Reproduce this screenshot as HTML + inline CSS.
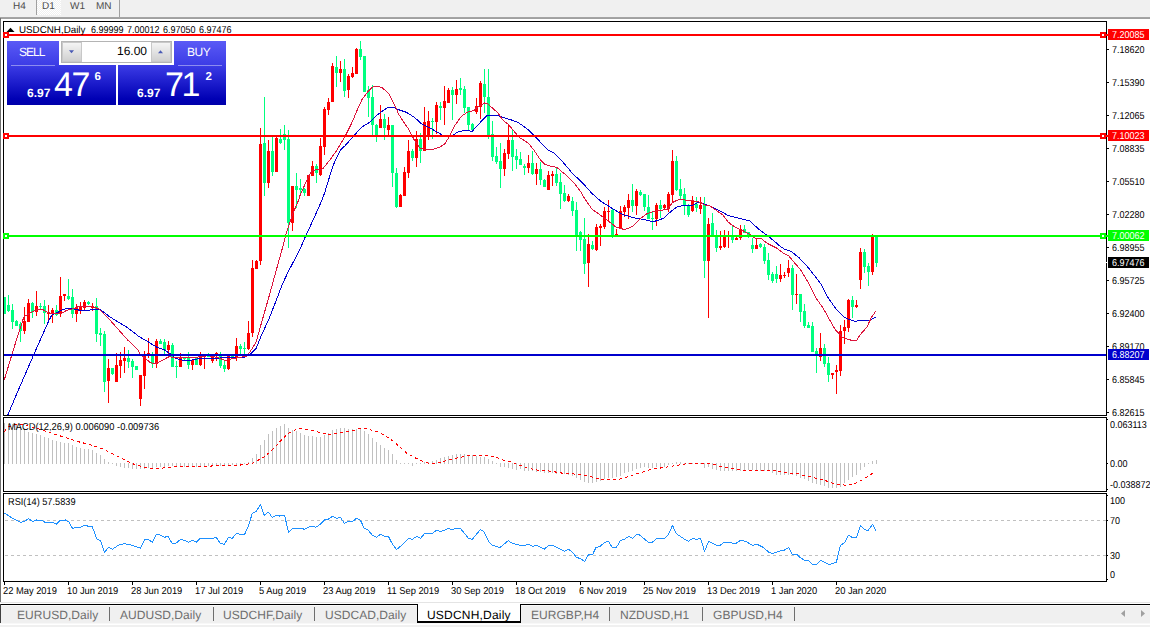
<!DOCTYPE html>
<html><head><meta charset="utf-8"><title>USDCNH,Daily</title>
<style>
html,body{margin:0;padding:0;}
body{width:1150px;height:627px;overflow:hidden;background:#fff;position:relative;font-family:"Liberation Sans",sans-serif;text-rendering:geometricPrecision;}
.abs{position:absolute;}
#top{left:0;top:0;width:1150px;height:17px;background:#f0f0f0;}
#top .tf{position:absolute;top:1px;font-size:10px;line-height:12px;color:#4c4c4c;}
.pl{position:absolute;left:1112px;font-size:10px;line-height:12px;color:#000;white-space:nowrap;transform:scaleX(0.9);transform-origin:0 0;}
.pb{position:absolute;left:1108px;width:41px;height:11px;font-size:10px;line-height:14px;color:#fff;white-space:nowrap;overflow:hidden;}
.pb span{display:inline-block;transform:scaleX(0.9);transform-origin:0 0;margin-left:4px;}
.dl{position:absolute;top:586px;font-size:10px;line-height:12px;color:#000;white-space:nowrap;transform:scaleX(0.932);transform-origin:0 0;}
.t{position:absolute;font-size:10px;line-height:12px;color:#000;white-space:nowrap;transform:scaleX(0.9);transform-origin:0 0;}
#tabbar{left:0;top:602px;width:1150px;height:25px;background:#f0f0f0;}
.tab{position:absolute;top:607.5px;font-size:12px;line-height:15px;color:#6e6e6e;white-space:nowrap;letter-spacing:0.05px;}
.tab.act{color:#000;letter-spacing:0.2px;}
.tsep{position:absolute;top:607px;width:1px;height:14px;background:#6e6e6e;}
.w{color:#fff;position:absolute;white-space:nowrap;}
</style></head><body>
<div id="top" class="abs">
 <div class="abs" style="left:37px;top:0;width:24px;height:15px;background:repeating-conic-gradient(#ffffff 0% 25%,#f0f0f0 0% 50%) 0 0/2px 2px;"></div>
 <div class="abs" style="left:36px;top:0;width:1px;height:15px;background:#a0a0a0;"></div>
 <div class="abs" style="left:119px;top:0;width:1px;height:17px;background:#a0a0a0;"></div>
 <div class="tf" style="left:13px">H4</div><div class="tf" style="left:42px">D1</div><div class="tf" style="left:70px">W1</div><div class="tf" style="left:96px">MN</div>
</div>
<div class="abs" style="left:0;top:17px;width:1150px;height:1px;background:#a4a4a4;"></div>
<div class="abs" style="left:0;top:18px;width:1150px;height:1px;background:#a0a0a0;"></div>
<div class="abs" style="left:0;top:18px;width:1px;height:584px;background:#707070;"></div>
<div id="tabbar" class="abs"></div>
<div class="abs" style="left:0;top:602px;width:1150px;height:1px;background:#e4e4e4;"></div>
<div class="abs" style="left:0;top:603px;width:1150px;height:1px;background:#fff;"></div>
<div class="abs" style="left:0;top:604px;width:1150px;height:1px;background:#000;"></div>
<div class="abs" style="left:0;top:605px;width:1150px;height:1px;background:#fafafa;"></div>
<div class="abs" style="left:0;top:604px;width:1px;height:19px;background:#404040;"></div>
<div class="abs" style="left:0;top:623px;width:1150px;height:1px;background:#f8f8f8;"></div>
<div class="abs" style="left:0;top:624px;width:1150px;height:1px;background:#fff;"></div>
<div class="abs" style="left:417px;top:604px;width:104px;height:19px;background:#fff;border:1px solid #000;border-top:none;border-bottom-width:2px;box-sizing:border-box;"></div>
<div class="tab" style="left:17px">EURUSD,Daily</div><div class="tab" style="left:120px">AUDUSD,Daily</div><div class="tab" style="left:223px">USDCHF,Daily</div><div class="tab" style="left:325px">USDCAD,Daily</div><div class="tab act" style="left:427px">USDCNH,Daily</div><div class="tab" style="left:531px">EURGBP,H4</div><div class="tab" style="left:620px">NZDUSD,H1</div><div class="tab" style="left:713px">GBPUSD,H4</div><div class="tsep" style="left:109px"></div><div class="tsep" style="left:213px"></div><div class="tsep" style="left:314px"></div><div class="tsep" style="left:609px"></div><div class="tsep" style="left:702px"></div><div class="tsep" style="left:794px"></div>
<svg class="abs" style="left:0;top:0" width="1150" height="627" viewBox="0 0 1150 627">
<g shape-rendering="crispEdges">
<!-- frames -->
<path fill="#000" d="M3 21h1104v1h-1104zM3 415h1104v1h-1104zM3 417h1104v1h-1104zM3 491h1104v1h-1104zM3 493h1104v1h-1104zM3 581h1104v1h-1104zM3 21h1v395h-1zM3 417h1v75h-1zM3 493h1v89h-1zM1106 21h1v395h-1zM1106 417h1v75h-1zM1106 493h1v89h-1zM1107 419h1v1h-1zM1107 463h1v1h-1zM1107 489h1v1h-1zM1107 495h1v1h-1zM1107 520h1v1h-1zM1107 555h1v1h-1zM1107 579h1v1h-1z"/>
<rect x="1107" y="49" width="2" height="1" fill="#000"/><rect x="1107" y="82" width="2" height="1" fill="#000"/><rect x="1107" y="115" width="2" height="1" fill="#000"/><rect x="1107" y="148" width="2" height="1" fill="#000"/><rect x="1107" y="181" width="2" height="1" fill="#000"/><rect x="1107" y="214" width="2" height="1" fill="#000"/><rect x="1107" y="247" width="2" height="1" fill="#000"/><rect x="1107" y="280" width="2" height="1" fill="#000"/><rect x="1107" y="313" width="2" height="1" fill="#000"/><rect x="1107" y="346" width="2" height="1" fill="#000"/><rect x="1107" y="379" width="2" height="1" fill="#000"/><rect x="1107" y="412" width="2" height="1" fill="#000"/>
<rect x="4" y="582" width="1" height="3" fill="#000"/><rect x="68" y="582" width="1" height="3" fill="#000"/><rect x="132" y="582" width="1" height="3" fill="#000"/><rect x="196" y="582" width="1" height="3" fill="#000"/><rect x="260" y="582" width="1" height="3" fill="#000"/><rect x="324" y="582" width="1" height="3" fill="#000"/><rect x="388" y="582" width="1" height="3" fill="#000"/><rect x="452" y="582" width="1" height="3" fill="#000"/><rect x="516" y="582" width="1" height="3" fill="#000"/><rect x="580" y="582" width="1" height="3" fill="#000"/><rect x="644" y="582" width="1" height="3" fill="#000"/><rect x="708" y="582" width="1" height="3" fill="#000"/><rect x="772" y="582" width="1" height="3" fill="#000"/><rect x="836" y="582" width="1" height="3" fill="#000"/>
<!-- rsi levels -->
<path stroke="#c0c0c0" stroke-width="1" stroke-dasharray="3 3" d="M5 520.5H1106M5 555.5H1106" fill="none"/>
<path fill="#c0c0c0" d="M4 423h1v41h-1zM8 424h1v40h-1zM12 424h1v40h-1zM16 425h1v39h-1zM20 427h1v37h-1zM24 430h1v34h-1zM28 432h1v32h-1zM32 433h1v31h-1zM36 434h1v30h-1zM40 435h1v29h-1zM44 437h1v27h-1zM48 438h1v26h-1zM52 440h1v24h-1zM56 441h1v23h-1zM60 442h1v22h-1zM64 443h1v21h-1zM68 443h1v21h-1zM72 445h1v19h-1zM76 447h1v17h-1zM80 448h1v16h-1zM84 449h1v15h-1zM88 449h1v15h-1zM92 450h1v14h-1zM96 453h1v11h-1zM100 455h1v9h-1zM104 459h1v5h-1zM108 462h1v2h-1zM112 463h1v1h-1zM116 463h1v3h-1zM120 463h1v4h-1zM124 463h1v5h-1zM128 463h1v5h-1zM132 463h1v6h-1zM136 463h1v6h-1zM140 463h1v6h-1zM144 463h1v6h-1zM148 463h1v5h-1zM152 463h1v5h-1zM156 463h1v4h-1zM160 463h1v4h-1zM164 463h1v4h-1zM168 463h1v3h-1zM172 463h1v3h-1zM176 463h1v4h-1zM180 463h1v4h-1zM184 463h1v4h-1zM188 463h1v4h-1zM192 463h1v4h-1zM196 463h1v4h-1zM200 463h1v4h-1zM204 463h1v3h-1zM208 463h1v3h-1zM212 463h1v3h-1zM216 463h1v3h-1zM220 463h1v3h-1zM224 463h1v3h-1zM228 463h1v2h-1zM232 463h1v2h-1zM236 463h1v2h-1zM240 463h1v1h-1zM244 463h1v1h-1zM248 462h1v2h-1zM252 458h1v6h-1zM256 454h1v10h-1zM260 445h1v19h-1zM264 440h1v24h-1zM268 434h1v30h-1zM272 431h1v33h-1zM276 428h1v36h-1zM280 426h1v38h-1zM284 424h1v40h-1zM288 428h1v36h-1zM292 430h1v34h-1zM296 431h1v33h-1zM300 433h1v31h-1zM304 435h1v29h-1zM308 436h1v28h-1zM312 436h1v28h-1zM316 437h1v27h-1zM320 437h1v27h-1zM324 435h1v29h-1zM328 433h1v31h-1zM332 430h1v34h-1zM336 429h1v35h-1zM340 428h1v36h-1zM344 428h1v36h-1zM348 429h1v35h-1zM352 429h1v35h-1zM356 429h1v35h-1zM360 428h1v36h-1zM364 431h1v33h-1zM368 434h1v30h-1zM372 438h1v26h-1zM376 442h1v22h-1zM380 445h1v19h-1zM384 448h1v16h-1zM388 450h1v14h-1zM392 454h1v10h-1zM396 460h1v4h-1zM400 463h1v1h-1zM404 463h1v1h-1zM408 463h1v1h-1zM412 463h1v3h-1zM416 463h1v1h-1zM420 463h1v1h-1zM424 462h1v2h-1zM428 462h1v2h-1zM432 461h1v3h-1zM436 460h1v4h-1zM440 458h1v6h-1zM444 457h1v7h-1zM448 456h1v8h-1zM452 455h1v9h-1zM456 454h1v10h-1zM460 454h1v10h-1zM464 454h1v10h-1zM468 455h1v9h-1zM472 455h1v9h-1zM476 456h1v8h-1zM480 457h1v7h-1zM484 457h1v7h-1zM488 459h1v5h-1zM492 461h1v3h-1zM496 463h1v1h-1zM500 463h1v4h-1zM504 463h1v4h-1zM508 463h1v5h-1zM512 463h1v6h-1zM516 463h1v7h-1zM520 463h1v6h-1zM524 463h1v8h-1zM528 463h1v8h-1zM532 463h1v8h-1zM536 463h1v9h-1zM540 463h1v9h-1zM544 463h1v10h-1zM548 463h1v10h-1zM552 463h1v10h-1zM556 463h1v11h-1zM560 463h1v10h-1zM564 463h1v11h-1zM568 463h1v12h-1zM572 463h1v13h-1zM576 463h1v15h-1zM580 463h1v17h-1zM584 463h1v19h-1zM588 463h1v20h-1zM592 463h1v20h-1zM596 463h1v19h-1zM600 463h1v18h-1zM604 463h1v16h-1zM608 463h1v15h-1zM612 463h1v15h-1zM616 463h1v14h-1zM620 463h1v13h-1zM624 463h1v10h-1zM628 463h1v9h-1zM632 463h1v8h-1zM636 463h1v6h-1zM640 463h1v5h-1zM644 463h1v4h-1zM648 463h1v5h-1zM652 463h1v5h-1zM656 463h1v4h-1zM660 463h1v4h-1zM664 463h1v4h-1zM668 463h1v2h-1zM672 463h1v1h-1zM676 462h1v2h-1zM680 462h1v2h-1zM684 463h1v1h-1zM688 463h1v1h-1zM692 463h1v1h-1zM696 463h1v1h-1zM700 463h1v1h-1zM704 463h1v5h-1zM708 463h1v4h-1zM712 463h1v6h-1zM716 463h1v7h-1zM720 463h1v8h-1zM724 463h1v8h-1zM728 463h1v8h-1zM732 463h1v8h-1zM736 463h1v8h-1zM740 463h1v8h-1zM744 463h1v7h-1zM748 463h1v7h-1zM752 463h1v7h-1zM756 463h1v7h-1zM760 463h1v8h-1zM764 463h1v8h-1zM768 463h1v8h-1zM772 463h1v10h-1zM776 463h1v12h-1zM780 463h1v12h-1zM784 463h1v12h-1zM788 463h1v12h-1zM792 463h1v12h-1zM796 463h1v13h-1zM800 463h1v15h-1zM804 463h1v16h-1zM808 463h1v18h-1zM812 463h1v20h-1zM816 463h1v21h-1zM820 463h1v22h-1zM824 463h1v23h-1zM828 463h1v25h-1zM832 463h1v25h-1zM836 463h1v25h-1zM840 463h1v24h-1zM844 463h1v20h-1zM848 463h1v17h-1zM852 463h1v14h-1zM856 463h1v12h-1zM860 463h1v7h-1zM864 463h1v4h-1zM868 463h1v1h-1zM872 461h1v3h-1zM876 460h1v4h-1z"/>
<path fill="#00ff7f" d="M4 297h1v17h-1zM4 297h2v17h-2zM8 295h1v17h-1zM7 305h3v6h-3zM12 304h1v25h-1zM11 310h3v12h-3zM16 320h1v6h-1zM15 321h3v5h-3zM20 322h1v20h-1zM19 324h3v7h-3zM32 302h1v16h-1zM31 303h3v9h-3zM40 303h1v6h-1zM39 306h3v1h-3zM44 300h1v24h-1zM43 306h3v7h-3zM56 305h1v11h-1zM55 310h3v5h-3zM68 279h1v21h-1zM67 296h3v3h-3zM72 289h1v29h-1zM71 297h3v17h-3zM88 301h1v4h-1zM87 302h3v2h-3zM96 298h1v44h-1zM95 306h3v28h-3zM100 328h1v18h-1zM99 333h3v2h-3zM104 331h1v61h-1zM103 334h3v48h-3zM112 368h1v7h-1zM111 368h3v6h-3zM128 350h1v18h-1zM127 358h3v4h-3zM132 359h1v19h-1zM131 361h3v6h-3zM136 366h1v4h-1zM135 366h3v4h-3zM152 352h1v16h-1zM151 354h3v10h-3zM160 339h1v5h-1zM159 341h3v3h-3zM164 339h1v15h-1zM163 342h3v8h-3zM172 343h1v24h-1zM171 345h3v22h-3zM176 361h1v17h-1zM175 366h3v1h-3zM184 357h1v3h-1zM183 357h3v2h-3zM188 352h1v17h-1zM187 358h3v7h-3zM196 358h1v7h-1zM195 358h3v7h-3zM208 353h1v4h-1zM207 354h3v3h-3zM220 352h1v16h-1zM219 356h3v10h-3zM224 361h1v11h-1zM223 365h3v4h-3zM232 356h1v1h-1zM231 356h3v1h-3zM240 344h1v10h-1zM239 346h3v3h-3zM244 342h1v12h-1zM243 348h3v1h-3zM264 97h1v99h-1zM263 143h3v40h-3zM272 137h1v39h-1zM271 151h3v21h-3zM280 129h1v15h-1zM279 139h3v4h-3zM284 125h1v25h-1zM283 134h3v6h-3zM288 130h1v118h-1zM287 139h3v84h-3zM296 173h1v35h-1zM295 186h3v4h-3zM300 179h1v14h-1zM299 188h3v2h-3zM304 188h1v8h-1zM303 189h3v4h-3zM316 164h1v19h-1zM315 166h3v7h-3zM336 56h1v31h-1zM335 67h3v6h-3zM344 59h1v38h-1zM343 69h3v22h-3zM360 41h1v19h-1zM359 49h3v8h-3zM364 56h1v36h-1zM363 56h3v36h-3zM368 86h1v31h-1zM367 90h3v8h-3zM372 85h1v50h-1zM371 97h3v28h-3zM376 124h1v18h-1zM375 125h3v10h-3zM384 114h1v26h-1zM383 119h3v9h-3zM392 125h1v62h-1zM391 125h3v48h-3zM396 168h1v40h-1zM395 173h3v34h-3zM412 149h1v12h-1zM411 151h3v7h-3zM420 133h1v30h-1zM419 139h3v12h-3zM432 118h1v21h-1zM431 121h3v1h-3zM440 102h1v18h-1zM439 106h3v2h-3zM452 87h1v33h-1zM451 90h3v5h-3zM460 78h1v17h-1zM459 88h3v2h-3zM464 86h1v27h-1zM463 89h3v19h-3zM468 107h1v23h-1zM467 107h3v18h-3zM472 123h1v8h-1zM471 124h3v6h-3zM484 69h1v44h-1zM483 84h3v13h-3zM488 69h1v70h-1zM487 97h3v38h-3zM492 121h1v40h-1zM491 134h3v23h-3zM496 147h1v17h-1zM495 156h3v6h-3zM500 143h1v45h-1zM499 161h3v8h-3zM512 130h1v41h-1zM511 140h3v17h-3zM516 149h1v20h-1zM515 156h3v4h-3zM520 152h1v13h-1zM519 159h3v6h-3zM524 164h1v11h-1zM523 166h3v2h-3zM532 151h1v24h-1zM531 163h3v11h-3zM540 162h1v23h-1zM539 169h3v11h-3zM544 179h1v8h-1zM543 180h3v7h-3zM556 168h1v18h-1zM555 174h3v9h-3zM560 173h1v36h-1zM559 182h3v12h-3zM564 185h1v17h-1zM563 193h3v8h-3zM572 197h1v19h-1zM571 201h3v10h-3zM576 202h1v49h-1zM575 210h3v27h-3zM580 231h1v20h-1zM579 232h3v8h-3zM584 218h1v56h-1zM583 239h3v25h-3zM592 241h1v9h-1zM591 245h3v4h-3zM612 209h1v29h-1zM611 210h3v26h-3zM632 184h1v28h-1zM631 200h3v6h-3zM640 190h1v6h-1zM639 192h3v3h-3zM644 194h1v17h-1zM643 194h3v13h-3zM648 195h1v24h-1zM647 207h3v12h-3zM652 211h1v19h-1zM651 218h3v1h-3zM660 200h1v18h-1zM659 205h3v4h-3zM676 156h1v35h-1zM675 161h3v29h-3zM680 179h1v20h-1zM679 189h3v7h-3zM684 188h1v27h-1zM683 194h3v12h-3zM688 204h1v13h-1zM687 206h3v9h-3zM696 197h1v15h-1zM695 204h3v4h-3zM704 197h1v81h-1zM703 204h3v57h-3zM712 213h1v23h-1zM711 223h3v13h-3zM716 230h1v22h-1zM715 237h3v11h-3zM732 226h1v17h-1zM731 237h3v3h-3zM744 225h1v8h-1zM743 229h3v4h-3zM748 232h1v6h-1zM747 232h3v3h-3zM752 238h1v15h-1zM751 245h3v4h-3zM760 243h1v5h-1zM759 244h3v3h-3zM764 244h1v20h-1zM763 247h3v14h-3zM768 253h1v27h-1zM767 260h3v15h-3zM772 272h1v11h-1zM771 274h3v7h-3zM776 266h1v17h-1zM775 274h3v5h-3zM792 265h1v45h-1zM791 268h3v27h-3zM800 294h1v28h-1zM799 294h3v18h-3zM804 304h1v24h-1zM803 311h3v15h-3zM808 322h1v6h-1zM807 325h3v3h-3zM812 322h1v30h-1zM811 326h3v26h-3zM816 348h1v25h-1zM815 351h3v3h-3zM824 344h1v23h-1zM823 348h3v16h-3zM828 357h1v25h-1zM827 363h3v12h-3zM852 296h1v22h-1zM851 300h3v7h-3zM864 249h1v24h-1zM863 252h3v15h-3zM868 263h1v23h-1zM867 266h3v6h-3zM876 236h1v31h-1zM875 237h3v26h-3z"/>
<path fill="#ff0000" d="M24 307h1v27h-1zM23 321h3v10h-3zM28 299h1v23h-1zM27 303h3v19h-3zM36 291h1v25h-1zM35 306h3v6h-3zM48 305h1v16h-1zM47 312h3v2h-3zM52 308h1v15h-1zM51 310h3v3h-3zM60 277h1v40h-1zM59 296h3v18h-3zM64 294h1v7h-1zM63 294h3v2h-3zM76 304h1v18h-1zM75 307h3v7h-3zM80 302h1v12h-1zM79 306h3v4h-3zM84 300h1v10h-1zM83 302h3v6h-3zM92 303h1v8h-1zM91 306h3v2h-3zM108 359h1v44h-1zM107 368h3v13h-3zM116 353h1v29h-1zM115 365h3v17h-3zM120 352h1v26h-1zM119 360h3v6h-3zM124 347h1v26h-1zM123 358h3v3h-3zM140 375h1v31h-1zM139 375h3v24h-3zM144 351h1v38h-1zM143 356h3v20h-3zM148 338h1v20h-1zM147 353h3v3h-3zM156 339h1v29h-1zM155 341h3v23h-3zM168 341h1v13h-1zM167 345h3v5h-3zM180 353h1v14h-1zM179 357h3v10h-3zM192 359h1v11h-1zM191 360h3v5h-3zM200 352h1v14h-1zM199 357h3v8h-3zM204 356h1v13h-1zM203 356h3v1h-3zM212 356h1v7h-1zM211 356h3v5h-3zM216 352h1v9h-1zM215 353h3v3h-3zM228 356h1v14h-1zM227 356h3v13h-3zM236 338h1v23h-1zM235 346h3v11h-3zM248 321h1v29h-1zM247 333h3v16h-3zM252 260h1v77h-1zM251 268h3v65h-3zM256 260h1v9h-1zM255 261h3v8h-3zM260 128h1v137h-1zM259 144h3v117h-3zM268 140h1v48h-1zM267 151h3v32h-3zM276 137h1v35h-1zM275 138h3v34h-3zM292 186h1v45h-1zM291 186h3v37h-3zM308 175h1v21h-1zM307 175h3v21h-3zM312 161h1v15h-1zM311 166h3v10h-3zM320 138h1v38h-1zM319 146h3v29h-3zM324 107h1v48h-1zM323 109h3v38h-3zM328 98h1v17h-1zM327 102h3v8h-3zM332 63h1v39h-1zM331 66h3v36h-3zM340 61h1v21h-1zM339 69h3v4h-3zM348 74h1v24h-1zM347 76h3v14h-3zM352 67h1v11h-1zM351 73h3v4h-3zM356 48h1v26h-1zM355 49h3v25h-3zM380 105h1v23h-1zM379 119h3v9h-3zM388 117h1v18h-1zM387 125h3v5h-3zM400 194h1v13h-1zM399 195h3v12h-3zM404 167h1v29h-1zM403 172h3v24h-3zM408 140h1v38h-1zM407 151h3v22h-3zM416 131h1v36h-1zM415 139h3v19h-3zM424 107h1v44h-1zM423 122h3v29h-3zM428 111h1v29h-1zM427 121h3v14h-3zM436 102h1v32h-1zM435 105h3v17h-3zM444 86h1v39h-1zM443 101h3v7h-3zM448 88h1v15h-1zM447 90h3v13h-3zM456 80h1v24h-1zM455 89h3v6h-3zM476 98h1v16h-1zM475 106h3v6h-3zM480 81h1v38h-1zM479 83h3v24h-3zM504 149h1v27h-1zM503 153h3v16h-3zM508 124h1v35h-1zM507 140h3v14h-3zM528 155h1v18h-1zM527 163h3v5h-3zM536 163h1v22h-1zM535 169h3v5h-3zM548 171h1v19h-1zM547 175h3v15h-3zM552 171h1v15h-1zM551 174h3v2h-3zM568 194h1v8h-1zM567 196h3v5h-3zM588 234h1v53h-1zM587 244h3v19h-3zM596 224h1v27h-1zM595 227h3v23h-3zM600 224h1v22h-1zM599 226h3v2h-3zM604 207h1v22h-1zM603 211h3v16h-3zM608 200h1v21h-1zM607 211h3v1h-3zM616 229h1v6h-1zM615 234h3v1h-3zM620 206h1v22h-1zM619 211h3v17h-3zM624 205h1v12h-1zM623 207h3v5h-3zM628 194h1v25h-1zM627 200h3v8h-3zM636 189h1v26h-1zM635 191h3v15h-3zM656 203h1v23h-1zM655 205h3v14h-3zM664 204h1v5h-1zM663 205h3v3h-3zM668 192h1v20h-1zM667 194h3v15h-3zM672 150h1v52h-1zM671 161h3v34h-3zM692 196h1v16h-1zM691 201h3v10h-3zM700 197h1v17h-1zM699 205h3v4h-3zM708 218h1v100h-1zM707 224h3v37h-3zM720 231h1v19h-1zM719 246h3v2h-3zM724 230h1v18h-1zM723 237h3v10h-3zM728 231h1v17h-1zM727 236h3v1h-3zM736 237h1v3h-1zM735 238h3v2h-3zM740 225h1v15h-1zM739 229h3v9h-3zM756 239h1v10h-1zM755 245h3v4h-3zM780 264h1v18h-1zM779 275h3v4h-3zM784 272h1v6h-1zM783 275h3v1h-3zM788 260h1v17h-1zM787 268h3v5h-3zM796 274h1v30h-1zM795 294h3v1h-3zM820 333h1v28h-1zM819 348h3v9h-3zM832 373h1v6h-1zM831 373h3v2h-3zM836 365h1v29h-1zM835 370h3v2h-3zM840 325h1v51h-1zM839 331h3v40h-3zM844 320h1v24h-1zM843 327h3v4h-3zM848 299h1v33h-1zM847 300h3v28h-3zM856 300h1v8h-1zM855 305h3v2h-3zM860 248h1v41h-1zM859 252h3v28h-3zM872 234h1v41h-1zM871 237h3v35h-3z"/>
</g>
<clipPath id="cp"><rect x="4" y="22" width="1102" height="393"/></clipPath>
<g clip-path="url(#cp)">
<polyline fill="none" stroke="#0000d0" stroke-width="1" shape-rendering="crispEdges" points="4,424 8.4,413.5 18.4,390 33.5,355.2 49.1,320 52.2,314.5 57.4,312.6 62.2,309.7 67,308.3 71.8,308.5 79.4,310.2 90,310.2 91.9,309.2 100.5,309.7 109.8,316.9 115,320 128,328 139.2,336.7 148.1,341.8 155.9,346.8 164.8,350.1 171.5,354.6 176,358.5 183.8,360.4 189.4,360.4 197.2,359 206.1,358.5 222.9,357.9 235.1,357.4 245.2,357 249.7,354.8 256,348.5 262,334 268.5,320 276,301 282,285 289.1,270 299.7,250 305.8,235.7 313.1,220 322,200 324.8,192.4 332.6,166.7 337,157 341,149.5 345,145.8 353.8,135.8 362,126.9 368.7,123 377.7,114.6 387.7,107.3 393.9,107.3 396.6,109 406.7,112.4 414.5,117.4 421.2,123.5 430.1,128 437.9,132.5 443,135.4 452.4,135.4 459.1,131.3 468.1,130.4 472,131.6 476,127 480,122.8 486.7,115.6 497.9,115.6 502.3,117.2 510,119.5 517.9,122.3 528,129.5 538,139.6 548.1,150.2 554.8,153.5 563.7,163 572.6,173.6 583.1,183.4 592,193.5 600.9,201.3 608,205.7 615.8,210.7 624.7,215.2 634.8,218 644.8,219.7 652.6,221.6 658,220.5 663.8,218 670.5,211.9 677.2,206.8 683.9,205.5 691.7,205.5 697.3,202.9 700.6,202.9 705.1,204.6 710.7,206.3 719.6,210.7 728.4,215.6 740.6,218.6 749.6,220.8 758.5,229 769.7,237.3 780.8,246.8 785.3,249.6 790.9,251.3 798.7,257.4 806.1,265 814.5,275.6 821.2,284.5 827.9,297.4 835.7,308.5 844.6,317.5 849.1,319.5 855.8,321.4 860.3,320.25 869.2,320.25 875.9,317.2"/>
<polyline fill="none" stroke="#dc143c" stroke-width="1" shape-rendering="crispEdges" points="4.2,380.3 11.2,356.8 16.7,339 19.6,330 23.9,316.9 31.6,312.1 38.3,309.2 42.1,309.2 47.8,312.6 53.6,313.5 61.2,313.5 67,310.2 74.6,308.3 79.4,306.2 91.9,306.2 99.5,309.2 109.9,320 128,340.3 138,350.1 139.7,353.5 144.7,357.9 150.3,362.6 154.8,363.75 159.25,361.85 169.3,356.6 174.9,357.9 195,357.4 208.4,355.7 217.3,357.4 225.1,360.4 230.7,359 239.6,357.4 246.3,356.3 249.7,352.4 256,342.3 262.3,320 270,293 276.3,270 281.9,250 285.8,234.6 292.5,214.5 298.6,200 300.3,194.6 309.2,175.1 312.5,170.6 317,169.5 322.6,169 329.5,160.5 337,150 346,134.6 352,122.4 357.2,110 362,99.5 368.7,90.6 372,87.5 376,86.1 379,86.5 382.1,87.8 385.5,90.5 388.8,94 391.6,99 394.4,104.6 398.9,114.6 403,121 407.8,128 414.5,140.3 420,148.1 426,149.5 433.5,149.2 439,147.5 444.6,144.2 449.1,136.9 454.7,125.8 461.4,116.3 468.1,111.8 473.7,110.7 478.5,106.3 484.6,103 488,104.1 497.5,112.5 503,120.3 507.9,123.9 513.1,130 519.1,137.3 528,142.9 533.6,149.6 540.3,159.6 544.7,164.1 550,166 557,167.5 561,171 567.4,176.2 574.1,182.9 580.8,191.8 585.3,199.6 592,209.1 602,216.3 608,220.8 615.8,226.9 624.7,229.7 632.6,226.4 640.4,218.5 647.1,213.5 657.1,210.7 667.2,209.6 672.7,202.4 679.4,199.2 686.1,200.1 692.8,200.7 700.6,202.4 705.1,205.2 709.6,205.7 715.1,209.6 722.8,215 728.4,222.3 735.1,227.3 744,231.2 749.6,234.5 756.3,239 760.7,238.2 767.4,243.5 776.4,247.9 783.1,252.9 788.6,255.7 794.2,262.4 800.9,270.2 807.8,281.7 815.6,297.4 823.4,308.5 830.1,320.8 835.7,330.3 839,333.6 843,337.8 850.8,340.1 856.9,340.1 860,335 867,326.9 871.4,317.5 875.9,311"/>
</g>
<polyline fill="none" stroke="#ff0000" stroke-width="1" stroke-dasharray="3 3" shape-rendering="crispEdges" points="4.3,431.6 8,427 14.5,424.6 24,425 34,427.5 43,430.3 52.3,433.5 65.4,437.5 77,441.4 90,444.6 102,448.6 113.7,454.4 125.5,460.3 132,463.6 140,465.9 143.9,467.8 155.7,468.5 160.9,468.2 172.6,467.2 179.1,466.5 209.1,466.3 215.7,465.5 239.1,465.2 245.6,464.3 252.2,463.5 257.4,460.7 263.9,457 269.1,452.8 275.6,446.3 281.5,439.8 287.8,433.9 293,430.65 299.6,428.4 306.1,429.1 311.3,430.4 317.8,432 323,433.65 329.6,434.6 336.1,433.5 341.3,432.6 347.8,431.6 353,430.65 359.6,428.4 366.1,428.4 371.3,430 377.8,431.7 383.7,434.8 389.6,438.5 395.4,443 401.3,448.3 407.2,453.5 413,456.7 419.6,460 425.2,462.6 431.7,463.5 437,463.25 443.5,461.3 449.3,460 455.2,458.3 461.7,457 467,455.4 486.5,455.4 491.7,456.3 497.6,457.65 503.5,460.25 509.3,461.3 515.9,463.9 521.7,465.9 527.6,468.1 533.5,469.4 539.3,470.4 545.2,470.7 551.7,471.3 557.6,472.4 563.9,473.4 570.4,473.4 575.7,474.3 581.5,474.3 587.4,476 593.3,477.3 599.1,478.9 605,479.3 611.5,480.2 617.4,479.3 623.3,478.5 629.1,476 635.7,474.3 641.5,472.4 647.4,470.4 653.3,469.1 659.1,468.2 665,467.4 671.5,466.25 677.4,465.2 683.3,464.3 689.1,463.5 707.8,463.5 713.7,464.3 719.6,466.25 725.4,467.4 731.3,468.5 737.8,469.4 743.7,470.4 773,470.4 779.6,471.5 785.4,472.4 791.3,473.4 797.2,473.4 803.7,475.4 809.6,476.3 815.4,478.25 821.3,479.3 827.2,481.25 833,483.5 839.6,484.4 845.4,485.2 851.5,484.4 857.4,482.6 863.25,479.2 869.8,475.25 875,471.35"/>
<polyline fill="none" stroke="#1e90ff" stroke-width="1" stroke-linejoin="round" shape-rendering="crispEdges" points="4.6,513.1 12.4,518.3 20.9,522.3 24.8,521 28.5,518.7 32.7,521.6 36.6,520 41.8,520.4 45.1,522.3 53,522.3 56.5,524.2 60.4,520.3 65.4,520 68.7,521.7 72.6,528.5 76.5,527.2 80.4,527.2 84.3,525.3 88.9,526.3 92.2,526.8 94.2,531.8 96.5,538.7 100.4,540.6 104.4,552.3 108.5,547.5 112.5,549.2 118.3,545.3 124.2,543.6 132.1,545.3 140.6,548.2 144.6,539.7 148.5,539.4 152.4,542.3 156.3,534.4 160.3,535.1 164.2,537.3 168.1,536.4 172,543.3 176,543.3 180.5,539.4 184.5,540.3 188.4,542.3 192.3,540.3 196.2,542.3 200.4,538.3 213.2,538.3 215.8,537 220.4,543.3 224.3,544.5 228.3,537.4 232.2,538.3 236.5,533.4 240.4,534.4 244.6,534.4 248.5,525.9 252.2,513.5 256.4,511.5 260.3,504.3 264.2,515.2 268.4,512.2 272.3,517.4 276,515.2 279.9,516.1 284.6,515.2 288.5,532.5 292.4,528.3 302.2,528.3 304.2,529.5 308.1,527.2 312,526.3 316,527.2 319.9,524.6 324.5,520 328.4,519.1 332.7,516.1 336.5,518.3 340.4,517.4 344.3,523.3 348,521.3 352.6,521.6 356.5,518.3 360.4,520.3 364.3,528.3 368.3,530.2 372.2,535.1 376.5,537.4 380.4,534.4 384.6,536.4 388.5,536.6 392.5,544.2 396.4,549.5 400.3,546.5 408.8,538.3 412.1,539.4 416.7,536.4 420.6,538.3 424.6,533.4 432.4,533.4 436.3,530.5 440.3,531.4 444.2,530.2 448.1,528.5 452,529.6 456,528.5 460.5,528.5 464.5,533.4 468.4,538.3 472.3,539.4 480.4,529.5 484.1,531.8 488.7,541.6 492.6,545.3 496.5,546.5 500,547.5 508.3,540.6 512.2,543.3 516.5,544.5 520.4,545.3 524.6,545.3 528.5,544.2 532.5,546.5 536.4,545.3 540.3,547.2 544.2,549.2 548.8,545.3 552.7,545.3 556.7,547.2 564.6,551.4 568.5,549.2 572.4,552.1 576.3,557.3 580.3,558.6 584.6,561.5 588.5,554.7 592.7,554.3 596,547.5 600.5,546.2 604.5,542.3 608.4,541.4 612.3,547.5 616.5,547.2 620.4,540.6 624.1,539.4 628.7,536.4 632.6,538.3 637.2,534.2 640.4,535.3 644.3,539 648.9,542.5 652.2,542.5 656.5,538.3 664.6,538.3 668.5,534.2 672.5,525.5 676.4,533.8 680.3,536.4 684.2,539 688.4,541.4 692.7,538.3 696.7,539.4 700.6,538.3 704.5,551.4 708.5,541.4 716.3,545.3 720.3,545.3 724.2,542.3 730.1,542.3 732.7,543.3 736,543.3 740.5,540.3 745.8,541.4 752.3,545.3 757.5,544.5 762.8,547.2 768.7,552.1 772.6,553.4 778.5,551.4 784.3,550.1 788.7,547.5 792.2,554.7 796.8,554.3 800.7,558 804.6,560.3 808.5,560.3 812.5,564.5 816.4,564.5 820.6,560.1 828.8,564.5 836.3,562.5 838,555.3 840.5,545.3 844.5,542.9 848.4,535.3 852.3,537.4 856.5,537.4 860.4,525.5 864.3,529.5 868,530.5 872.6,524.2 875.8,530.5"/>
<g shape-rendering="crispEdges">
<!-- horizontal lines -->
<rect x="4" y="34" width="1102" height="2" fill="#ff0000"/>
<rect x="4" y="135" width="1102" height="2" fill="#ff0000"/>
<rect x="4" y="235" width="1102" height="2" fill="#00ff00"/>
<rect x="4" y="354" width="1102" height="2" fill="#0000cd"/>
<!-- handles -->
<path fill="#ff0000" fill-rule="evenodd" d="M3 32h6v6h-6zM5 34v2h2v-2zM1100 32h6v6h-6zM1102 34v2h2v-2zM3 133h6v6h-6zM5 135v2h2v-2zM1100 133h6v6h-6zM1102 135v2h2v-2z"/>
<path fill="#00ff00" fill-rule="evenodd" d="M3 233h6v6h-6zM5 235v2h2v-2zM1100 233h6v6h-6zM1102 235v2h2v-2z"/>
<path fill="#fff" d="M5 34h2v2h-2zM1102 34h2v2h-2zM5 135h2v2h-2zM1102 135h2v2h-2zM5 235h2v2h-2zM1102 235h2v2h-2z"/>
<rect x="1106" y="34" width="2" height="2" fill="#ff0000"/>
<rect x="1106" y="135" width="2" height="2" fill="#ff0000"/>
<rect x="1106" y="235" width="2" height="2" fill="#00ff00"/>
<rect x="1106" y="262" width="2" height="1" fill="#fff"/>
<!-- title arrow -->
<path d="M6.500 32L10.500 27.800L14.500 32z" fill="#000" shape-rendering="auto"/>
<!-- scroll arrows -->
<path d="M1125 610v7l-4 -3.500z" fill="#a0a0a0" shape-rendering="auto"/>
<path d="M1141 610v7l4 -3.500z" fill="#a0a0a0" shape-rendering="auto"/>
</g>
</svg>
<div class="pl" style="top:45px">7.18620</div><div class="pl" style="top:78px">7.15390</div><div class="pl" style="top:111px">7.12065</div><div class="pl" style="top:144px">7.08835</div><div class="pl" style="top:177px">7.05510</div><div class="pl" style="top:210px">7.02280</div><div class="pl" style="top:243px">6.98955</div><div class="pl" style="top:276px">6.95725</div><div class="pl" style="top:309px">6.92400</div><div class="pl" style="top:342px">6.89170</div><div class="pl" style="top:375px">6.85845</div><div class="pl" style="top:408px">6.82615</div>
<div class="pb" style="top:29px;background:#ff0000"><span>7.20085</span></div>
<div class="pb" style="top:130px;background:#ff0000"><span>7.10023</span></div>
<div class="pb" style="top:230px;background:#00ff00"><span>7.00062</span></div>
<div class="pb" style="top:257px;background:#000"><span>6.97476</span></div>
<div class="pb" style="top:349px;background:#0000cd"><span>6.88207</span></div>
<div class="t" style="left:1110px;top:420px">0.063113</div>
<div class="t" style="left:1110px;top:459px">0.00</div>
<div class="t" style="left:1110px;top:480px">-0.038872</div>
<div class="t" style="left:1110px;top:496px">100</div>
<div class="t" style="left:1110px;top:515.5px">70</div>
<div class="t" style="left:1110px;top:551px">30</div>
<div class="t" style="left:1110px;top:570px">0</div>
<div class="dl" style="left:3px">22 May 2019</div><div class="dl" style="left:67px">10 Jun 2019</div><div class="dl" style="left:131px">28 Jun 2019</div><div class="dl" style="left:195px">17 Jul 2019</div><div class="dl" style="left:259px">5 Aug 2019</div><div class="dl" style="left:323px">23 Aug 2019</div><div class="dl" style="left:387px">11 Sep 2019</div><div class="dl" style="left:451px">30 Sep 2019</div><div class="dl" style="left:515px">18 Oct 2019</div><div class="dl" style="left:579px">6 Nov 2019</div><div class="dl" style="left:643px">25 Nov 2019</div><div class="dl" style="left:707px">13 Dec 2019</div><div class="dl" style="left:771px">1 Jan 2020</div><div class="dl" style="left:835px">20 Jan 2020</div>
<div class="t" style="left:19px;top:25px;transform:scaleX(0.98)">USDCNH,Daily</div>
<div class="t" style="left:91px;top:25px;word-spacing:1.1px">6.99999 7.00012 6.97050 6.97476</div>
<div class="t" style="left:8px;top:422px;transform:scaleX(0.934)">MACD(12,26,9) 0.006090 -0.009736</div>
<div class="t" style="left:8px;top:497px;transform:scaleX(0.92)">RSI(14) 57.5839</div>

<!-- one click trading panel -->
<div class="abs" style="left:7px;top:41px;width:52px;height:24px;background:linear-gradient(#5a5af6,#3c3ce6);"></div>
<div class="abs" style="left:174px;top:41px;width:52px;height:24px;background:linear-gradient(#5a5af6,#3c3ce6);"></div>
<div class="abs" style="left:7px;top:65px;width:109px;height:40px;background:linear-gradient(#3c3ce6,#0000b4 85%,#0000aa);"></div>
<div class="abs" style="left:118px;top:65px;width:108px;height:40px;background:linear-gradient(#3c3ce6,#0000b4 85%,#0000aa);"></div>
<div class="abs" style="left:11px;top:65px;width:44px;height:1px;background:#8c8cf0;"></div>
<div class="abs" style="left:178px;top:65px;width:44px;height:1px;background:#8c8cf0;"></div>
<div class="abs" style="left:61px;top:41px;width:111px;height:22px;background:#fff;border:1px solid #b4b4b4;box-sizing:border-box;"></div>
<div class="abs" style="left:62px;top:42px;width:20px;height:20px;background:linear-gradient(#f4f4f4,#d0d0d0);border:1px solid #c8c8c8;box-sizing:border-box;"></div>
<div class="abs" style="left:151px;top:42px;width:20px;height:20px;background:linear-gradient(#f4f4f4,#d0d0d0);border:1px solid #c8c8c8;box-sizing:border-box;"></div>
<svg class="abs" style="left:62px;top:42px" width="110" height="20"><path d="M7 8.300h5l-2.500 3z" fill="#4a5ab4"/><path d="M96 11.300h5l-2.500 -3z" fill="#4a5ab4"/></svg>
<div class="abs" style="left:84px;top:44px;width:63px;text-align:right;font-size:12px;line-height:14px;color:#000;">16.00</div>
<div class="w" style="left:19px;top:45px;font-size:12px;line-height:14px;letter-spacing:-1px;">SELL</div>
<div class="w" style="left:187px;top:45px;font-size:12px;line-height:14px;letter-spacing:-0.5px;">BUY</div>
<div class="w" style="left:27px;top:85.5px;font-size:12px;line-height:14px;font-weight:bold;">6.97</div>
<div class="w" style="left:137px;top:85.5px;font-size:12px;line-height:14px;font-weight:bold;">6.97</div>
<div class="w" style="left:54px;top:65px;font-size:34px;line-height:40px;letter-spacing:-1.5px;">47</div>
<div class="w" style="left:165px;top:65px;font-size:34px;line-height:40px;letter-spacing:-2.5px;">71</div>
<div class="w" style="left:94.500px;top:69.500px;font-size:11.5px;line-height:14px;font-weight:bold;">6</div>
<div class="w" style="left:205.500px;top:69.500px;font-size:11.5px;line-height:14px;font-weight:bold;">2</div>
</body></html>
